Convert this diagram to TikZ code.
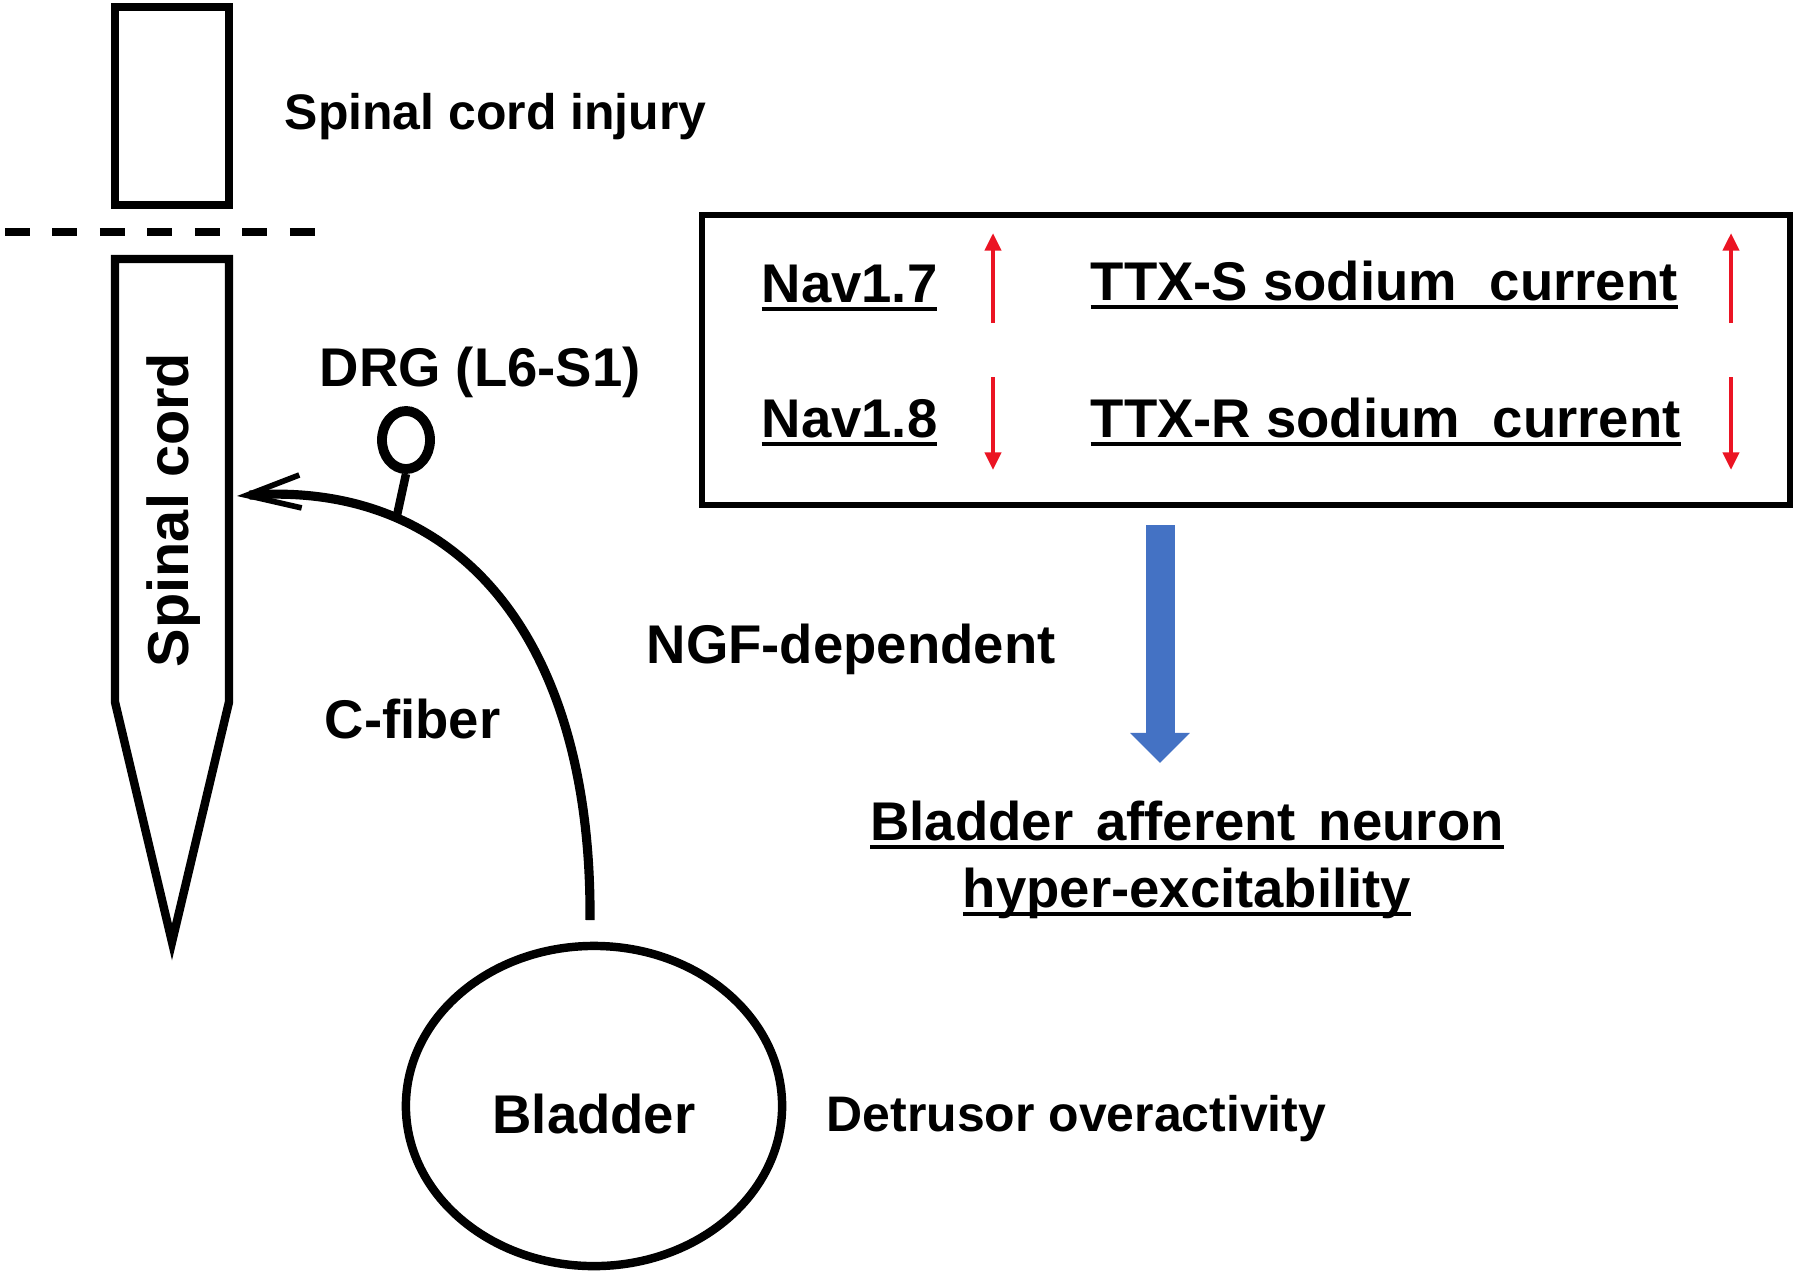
\documentclass[tikz,border=0pt]{standalone}
\usepackage{fontspec}
\setmainfont{Liberation Sans}
\usepackage{tikz}
\usetikzlibrary{arrows.meta, positioning, shapes.geometric}
\definecolor{ngfblue}{RGB}{68,114,196}
\definecolor{navred}{RGB}{235,20,35}
\newcommand{\ulbox}[1]{\setbox0=\hbox{#1}\rlap{\rule[-0.16em]{\wd0}{0.075em}}\box0}

\begin{document}
\begin{tikzpicture}[x=0.01cm, y=-0.01cm,
    big/.style={font=\bfseries\fontsize{15.5}{18.6}\selectfont, inner sep=0pt, anchor=base west},
    small/.style={font=\bfseries\fontsize{14.2}{17}\selectfont, inner sep=0pt, anchor=base west},
    outline/.style={draw, line width=2.4pt},
    updown/.style={draw=navred, line width=1.3pt, -{Triangle[length=5pt 0, width=4.5pt 0]}}]
    \useasboundingbox (0,0) rectangle (1800,1275);

    % Spinal cord, cut by the injury
    \draw[outline] (115,7) rectangle (229,205);
    \draw[line width=2pt, dash pattern=on 7.1pt off 6.4pt] (5,232) -- (316,232);
    \draw[outline, line join=miter] (115,259) -- (229,259) -- (229,702) -- (172,942) -- (115,702) -- cycle;
    \node[big, font=\bfseries\fontsize{16.4}{19}\selectfont, anchor=center, rotate=90] (cord) at (174,510) {Spinal cord};
    \node[small] (injury) at (284,129) {Spinal cord injury};

    % DRG, C-fiber and bladder
    \node[draw, line width=2.8pt, ellipse, minimum width=0.48cm, minimum height=0.58cm, inner sep=0pt] (drg) at (406,440) {};
    \node[big] (drglabel) at (319,386) {DRG (L6-S1)};
    \node[outline, ellipse, minimum width=3.76cm, minimum height=3.2cm, inner sep=0pt,
          text height=0.55cm, text depth=0pt,
          font=\bfseries\fontsize{15.5}{18.6}\selectfont] (bladder) at (594,1106) {Bladder};
    \coordinate (cordin) at (237,496);
    \coordinate (fiberend) at (590,920);
    \coordinate (stemfoot) at (396,520);
    \draw[line width=2.6pt, -{Straight Barb[length=0.54cm 0, width=0.33cm 0, line width=1.6pt]}]
        (fiberend) .. controls (592,640) and (460,480) .. (cordin);
    \draw[line width=2.4pt] (drg.south) -- (stemfoot);
    \node[big] (cfiber) at (324,738) {C-fiber};
    \node[small] (detrusor) at (826,1131) {Detrusor overactivity};

    % Sodium channels and currents
    \node[draw, line width=1.8pt, minimum width=10.87cm, minimum height=2.9cm, inner sep=0pt] (sodium) at (1246,360) {};
    \node[big] (nav17) at (761,302) {\ulbox{Nav1.7}};
    \node[big] (nav18) at (761,437) {\ulbox{Nav1.8}};
    \node[big] (ttxs) at (1090,300) {\ulbox{TTX-S sodium\hspace{0.6em}current}};
    \node[big] (ttxr) at (1090,437) {\ulbox{TTX-R sodium\hspace{0.6em}current}};
    \foreach \x in {993,1731} {
        \draw[updown] (\x,323) -- (\x,233);
        \draw[updown] (\x,377) -- (\x,470);
    }

    % NGF-dependent result
    \coordinate (ngftop) at (1160,525);
    \coordinate (ngftip) at (1160,763);
    \draw[line width=0.29cm, ngfblue, -{Triangle[length=0.3cm 0, width=0.58cm 0]}] (ngftop) -- (ngftip);
    \node[big] (ngf) at (646,663) {NGF-dependent};
    \node[big, anchor=base] (result) at (1187,840) {\ulbox{Bladder\hspace{0.42em}afferent\hspace{0.42em}neuron}};
    \node[big, anchor=base] (result2) at (1187,907) {\ulbox{hyper-excitability}};
\end{tikzpicture}
\end{document}
